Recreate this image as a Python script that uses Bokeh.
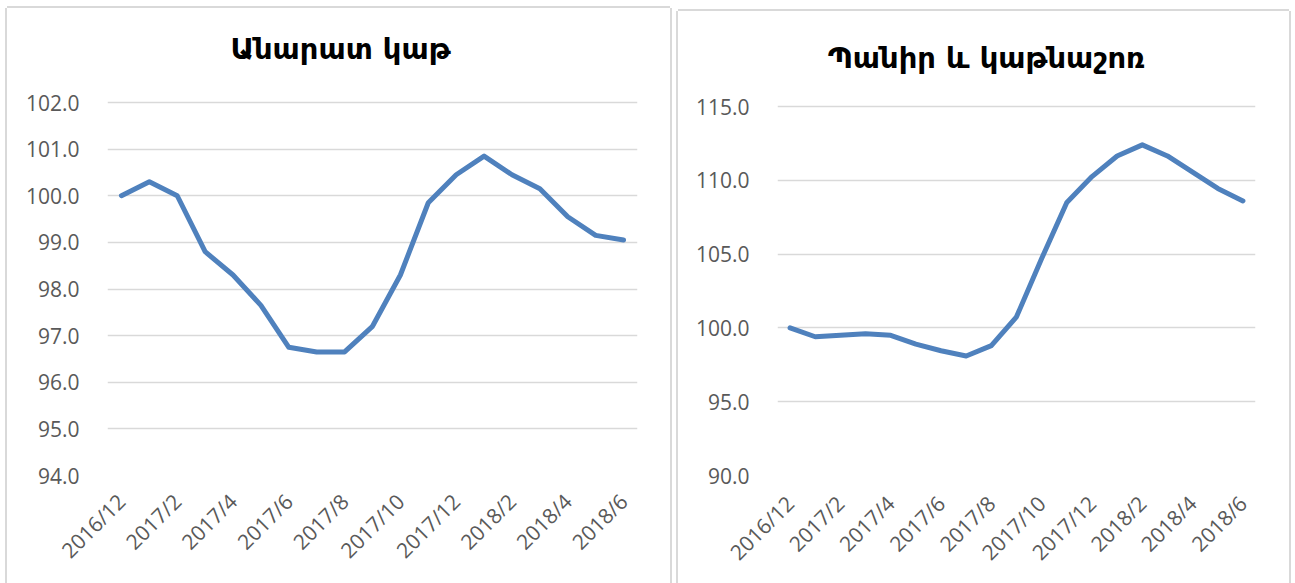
import math
from bokeh.plotting import figure
from bokeh.layouts import row
from bokeh.models import Range1d, FixedTicker, NumeralTickFormatter, Label
from bokeh.embed import file_html
from bokeh.resources import INLINE

months = ["2016/12", "2017/1", "2017/2", "2017/3", "2017/4", "2017/5", "2017/6",
          "2017/7", "2017/8", "2017/9", "2017/10", "2017/11", "2017/12",
          "2018/1", "2018/2", "2018/3", "2018/4", "2018/5", "2018/6"]

milk = [100.0, 100.3, 100.0, 98.8, 98.3, 97.65, 96.75, 96.65, 96.65, 97.2,
        98.3, 99.85, 100.45, 100.85, 100.45, 100.15, 99.55, 99.15, 99.05]

cheese = [100.0, 99.4, 99.5, 99.6, 99.5, 98.9, 98.45, 98.1, 98.8, 100.75,
          104.7, 108.5, 110.25, 111.65, 112.4, 111.65, 110.55, 109.45, 108.6]

milk_title = "Անարատ կաթ"
cheese_title = "Պանիր և կաթնաշոռ"
milk_ticks = [94, 95, 96, 97, 98, 99, 100, 101, 102]
cheese_ticks = [90, 95, 100, 105, 110, 115]

LINE = "#4F81BD"
GRID = "#d9d9d9"
TXT = "#595959"
FONT = "Open Sans"
SHADOW = "0 -2px 0 0 #d9d9d9, -2px 0 0 0 #d9d9d9, 2px 0 0 0 #d9d9d9"


def make(title, values, ticks, w, h, bl, br, bt, bb, data_h, title_cx, title_cy, xstand):
    # data_h: pixel height between lowest and highest tick; frame extends above
    frame_h = h - bt - bb
    span = ticks[-1] - ticks[0]
    y_top = ticks[0] + span * frame_h / data_h
    p = figure(width=w, height=h, title=None,
               x_range=Range1d(-0.5, len(months) - 0.5),
               y_range=Range1d(ticks[0], y_top),
               output_backend="svg", toolbar_location=None,
               min_border_left=bl, min_border_right=br, min_border_top=bt, min_border_bottom=bb)
    p.outline_line_color = None
    p.background_fill_color = "white"
    p.border_fill_color = "white"
    p.xgrid.grid_line_color = None
    p.ygrid.grid_line_color = GRID
    p.ygrid.grid_line_width = 1.5
    p.yaxis.ticker = FixedTicker(ticks=ticks)
    p.yaxis.formatter = NumeralTickFormatter(format="0.0")
    p.xaxis.ticker = FixedTicker(ticks=list(range(0, len(months), 2)))
    p.xaxis.major_label_overrides = {i: months[i] for i in range(0, len(months), 2)}
    for ax in (p.xaxis[0], p.yaxis[0]):
        ax.axis_line_color = None
        ax.major_tick_line_color = None
        ax.minor_tick_line_color = None
        ax.major_tick_out = 0
        ax.major_tick_in = 0
        ax.major_label_text_font = FONT
        ax.major_label_text_font_size = "21px"
        ax.major_label_text_color = TXT
    p.yaxis.major_label_standoff = 28
    p.xaxis.major_label_standoff = xstand
    p.xaxis.major_label_orientation = math.pi / 4
    p.line(x=list(range(len(months))), y=values, line_color=LINE, line_width=5,
           line_cap="round", line_join="round")
    frame_w = w - bl - br
    tx = -0.5 + len(months) * (title_cx - bl) / frame_w
    ty = ticks[0] + span * (h - bb - title_cy) / data_h
    p.add_layout(Label(x=tx, y=ty, text=title, text_align="center", text_baseline="middle",
                       text_font="DejaVu Sans", text_font_style="bold",
                       text_font_size="29px", text_color="black"))
    p.styles = {"box-shadow": SHADOW}
    return p


# left panel: canvas at (7, 8), 663 x 575
p1 = make(milk_title, milk, milk_ticks, 663, 575, 100, 33, 5, 108, 373, 340 - 7, 48 - 8, 22)
p1.margin = (8, 0, 0, 7)
# right panel: canvas at (678, 11), 611 x 572
p2 = make(cheese_title, cheese, cheese_ticks, 611, 572, 99, 34, 5, 108, 369, 986 - 678, 57 - 11, 24)
p2.margin = (11, 0, 0, 8)

layout = row(p1, p2)
open("out.html", "w").write(file_html(layout, INLINE))
